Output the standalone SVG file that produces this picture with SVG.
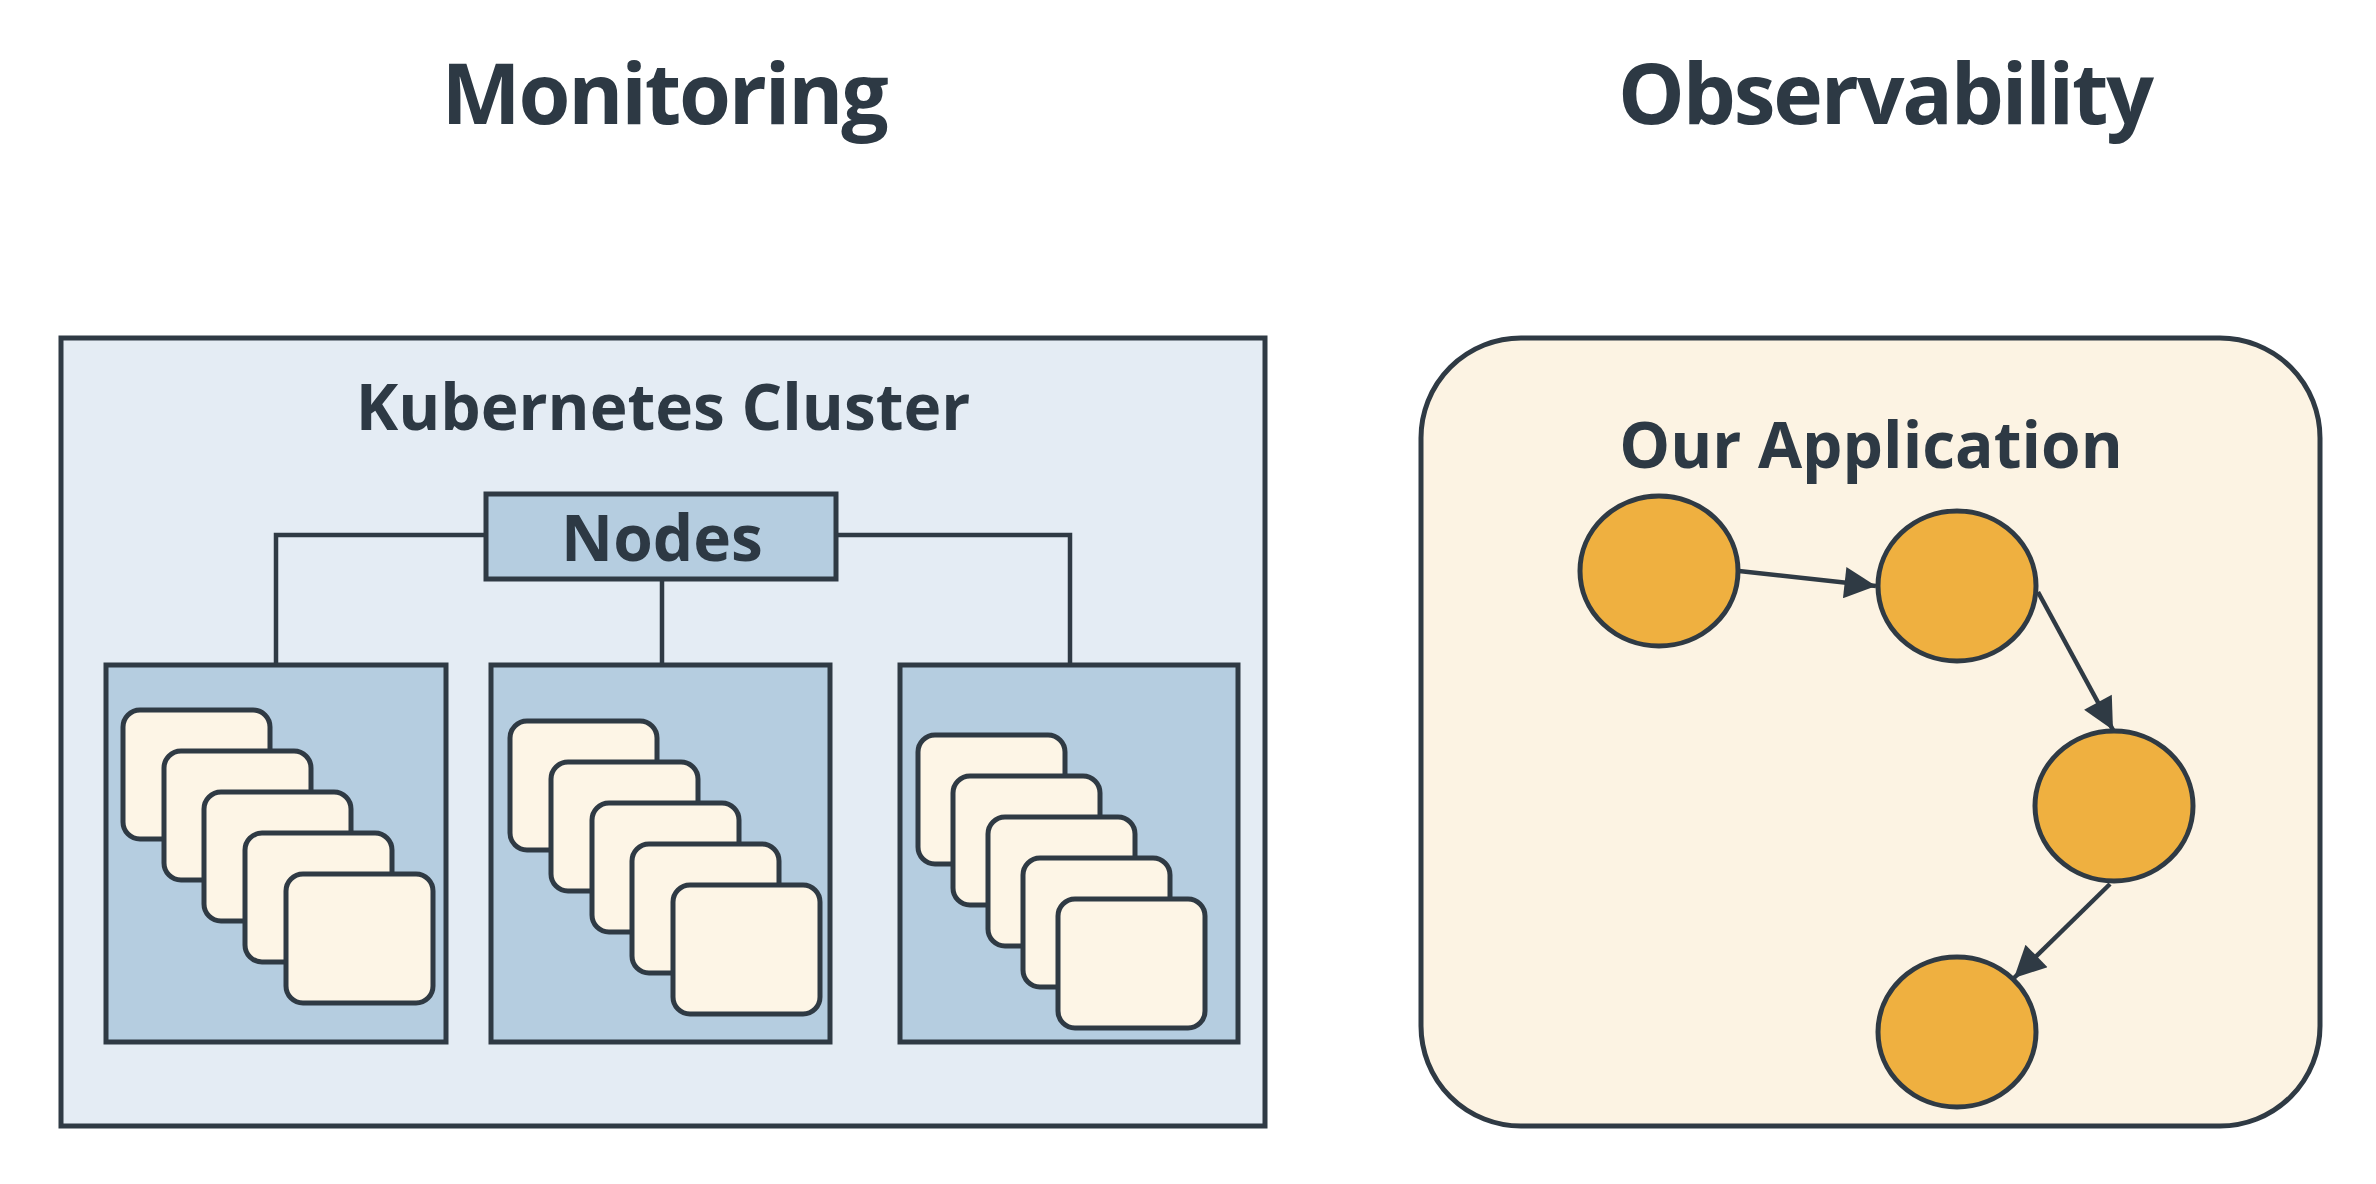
<svg xmlns="http://www.w3.org/2000/svg" width="2376" height="1184" viewBox="0 0 2376 1184">
<defs>
<style>
.t{font-family:"Open Sans","Noto Sans","Liberation Sans",sans-serif;font-weight:700;fill:#2d3944;text-anchor:middle}
.frame{stroke:#2f3a44;stroke-width:5}
.nb{fill:#b5cde0;stroke:#2f3a44;stroke-width:5}
.pod{fill:#fdf5e6;stroke:#2f3a44;stroke-width:5}
.c{fill:#efb040;stroke:#2f3a44;stroke-width:5}
.ln{fill:none;stroke:#2f3a44;stroke-width:4.5}
</style>
<marker id="ah" viewBox="0 0 10 10" refX="10" refY="5" markerWidth="9" markerHeight="7" markerUnits="strokeWidth" orient="auto">
<path d="M0,0 L10,5 L0,10 z" fill="#2f3a44"/>
</marker>
<rect id="p" width="147" height="129" rx="17" class="pod"/>
</defs>
<rect width="2376" height="1184" fill="#ffffff"/>
<text class="t" x="664" y="124" font-size="84" letter-spacing="-2.2">Monitoring</text>
<text class="t" x="1885" y="124" font-size="84" letter-spacing="-2.2">Observability</text>

<g id="cluster">
<rect x="61" y="338" width="1204" height="788" fill="#e4ecf4" class="frame"/>
<text class="t" x="663" y="430" font-size="64">Kubernetes Cluster</text>
</g>

<g id="connectors-left">
<polyline class="ln" points="486,535 276,535 276,665"/>
<polyline class="ln" points="836,535 1070,535 1070,665"/>
<line class="ln" x1="662" y1="579" x2="662" y2="665"/>
</g>

<g id="nodes">
<rect x="486" y="494" width="350" height="85" class="nb"/>
<text class="t" x="662" y="561" font-size="64">Nodes</text>
</g>

<g id="node1">
<rect x="106" y="665" width="340" height="377" class="nb"/>
<use href="#p" x="123" y="710"/>
<use href="#p" x="164" y="751"/>
<use href="#p" x="204" y="792"/>
<use href="#p" x="245" y="833"/>
<use href="#p" x="286" y="874"/>
</g>
<g id="node2">
<rect x="491" y="665" width="339" height="377" class="nb"/>
<use href="#p" x="510" y="721"/>
<use href="#p" x="551" y="762"/>
<use href="#p" x="592" y="803"/>
<use href="#p" x="632" y="844"/>
<use href="#p" x="673" y="885"/>
</g>
<g id="node3">
<rect x="900" y="665" width="338" height="377" class="nb"/>
<use href="#p" x="918" y="735"/>
<use href="#p" x="953" y="776"/>
<use href="#p" x="988" y="817"/>
<use href="#p" x="1023" y="858"/>
<use href="#p" x="1058" y="899"/>
</g>

<g id="application">
<rect x="1421" y="338" width="899" height="788" rx="100" fill="#fcf3e3" class="frame"/>
<text class="t" x="1871" y="468" font-size="64">Our Application</text>
</g>
<g id="svc1"><ellipse cx="1659" cy="571" rx="79" ry="75" class="c"/></g>
<g id="svc2"><ellipse cx="1957" cy="586" rx="79" ry="75" class="c"/></g>
<g id="svc3"><ellipse cx="2114" cy="806" rx="79" ry="75" class="c"/></g>
<g id="svc4"><ellipse cx="1957" cy="1032" rx="79" ry="75" class="c"/></g>

<g id="connectors">
<line class="ln" x1="1739" y1="571" x2="1876" y2="586" marker-end="url(#ah)"/>
<line class="ln" x1="2038" y1="592" x2="2113" y2="730" marker-end="url(#ah)"/>
<line class="ln" x1="2110" y1="884" x2="2014" y2="978" marker-end="url(#ah)"/>
</g>
</svg>
